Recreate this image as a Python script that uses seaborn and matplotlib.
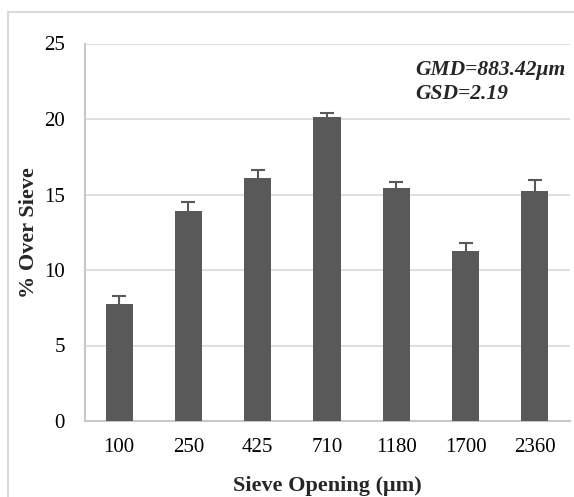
import matplotlib
matplotlib.use("Agg")
import matplotlib.pyplot as plt
import seaborn as sns
import numpy as np
import pandas as pd
from matplotlib.lines import Line2D

categories = ["100", "250", "425", "710", "1180", "1700", "2360"]
values = [7.73, 13.93, 16.11, 20.13, 15.43, 11.26, 15.23]
errors = [0.55, 0.57, 0.49, 0.27, 0.40, 0.53, 0.73]
yticks = [0, 5, 10, 15, 20, 25]

sns.set_theme(style="white")
plt.rcParams["font.family"] = ["Liberation Serif", "DejaVu Serif"]

df = pd.DataFrame({"opening": categories, "pct": values})

fig = plt.figure(figsize=(5.74, 4.97), dpi=100)
ax = fig.add_axes([84.5 / 574, 1 - 421 / 497, (569.5 - 84.5) / 574, (421 - 43.5) / 497])

bar_color = "#595959"
sns.barplot(data=df, x="opening", y="pct", color=bar_color, width=0.39,
            saturation=1, ax=ax, errorbar=None, zorder=3)
for p in ax.patches:
    p.set_edgecolor("none")

pos = np.arange(len(categories))
ax.errorbar(pos, values, yerr=errors, fmt="none", ecolor=bar_color,
            elinewidth=1.5, capsize=4.7, capthick=1.5, zorder=4)

ax.set_xlim(-0.5, len(categories) - 0.5)
ax.set_ylim(0, 25)
ax.set_yticks(yticks)
ax.yaxis.grid(True, color="#d9d9d9", linewidth=1.2, zorder=0)
ax.set_axisbelow(True)

for s in ["top", "right"]:
    ax.spines[s].set_visible(False)
for s in ["left", "bottom"]:
    ax.spines[s].set_color("#c8c8c8")
    ax.spines[s].set_linewidth(1.5)

ax.tick_params(axis="both", length=0, labelsize=15, colors="black")
ax.tick_params(axis="y", pad=14)
ax.tick_params(axis="x", pad=12)

ax.set_xlabel("Sieve Opening (μm)", fontsize=16, fontweight="bold")
ax.set_ylabel("% Over Sieve", fontsize=16, fontweight="bold")
ax.xaxis.set_label_coords(0.5, -0.145)
ax.yaxis.set_label_coords(-0.094, 0.5)

ax.text(0.681, 0.9166, "GMD=883.42μm", transform=ax.transAxes, fontsize=15.5,
        fontweight="bold", fontstyle="italic", ha="left", va="baseline")
ax.text(0.681, 0.853, "GSD=2.19", transform=ax.transAxes, fontsize=15.5,
        fontweight="bold", fontstyle="italic", ha="left", va="baseline")

border_color = "#d9d9d9"
x0 = 8 / 574
y0 = 1 - 11.5 / 497
fig.add_artist(Line2D([x0, x0], [0, y0], transform=fig.transFigure, color=border_color, lw=1.5))
fig.add_artist(Line2D([x0, 1], [y0, y0], transform=fig.transFigure, color=border_color, lw=1.5))

fig.savefig("out.png", dpi=100)
